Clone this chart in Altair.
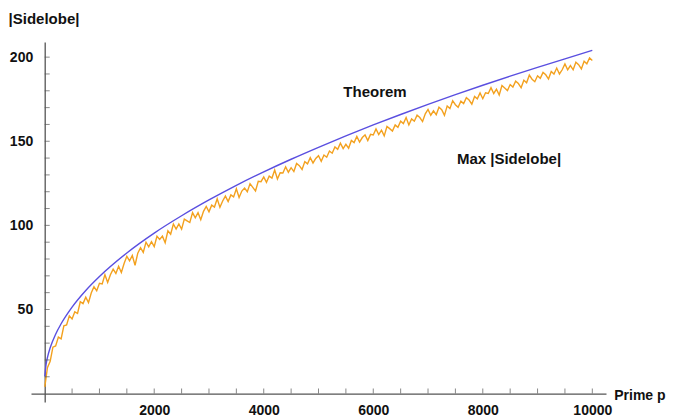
import altair as alt
import pandas as pd

# Theorem curve (coarse samples)
theorem_p = [2, 25, 50, 100, 200, 300, 500, 750, 1000, 1500, 2000, 2500, 3000, 3500,
             4000, 4500, 5000, 5500, 6000, 6500, 7000, 7500, 8000, 8500, 9000, 9500, 10000]
theorem_v = [10.3, 17.3, 21.4, 27.2, 35.3, 41.5, 51.4, 61.3, 69.6, 83.6, 95.4, 105.7, 115.1, 123.8,
             131.8, 139.3, 146.4, 153.2, 159.7, 165.9, 171.9, 177.7, 183.3, 188.7, 193.9, 199.0, 204.0]

# Max |Sidelobe|
max_p = [2] + list(range(50, 10001, 50))
max_v = [4.0,
 15.4, 19.2, 27.6, 28.3, 33.6, 32.5, 40.3, 40.8, 46.2, 44.4,
 48.6, 47.6, 54.6, 53.5, 57.3, 54.1, 59.8, 63.5, 61.1, 65.6,
 65.2, 70.7, 66.1, 70.6, 74.0, 71.4, 75.7, 72.0, 77.3, 81.6,
 78.9, 82.1, 76.3, 83.5, 86.7, 83.9, 90.0, 87.2, 90.3, 87.4,
 93.5, 91.6, 93.6, 89.7, 96.7, 94.7, 100.8, 97.8, 100.8, 97.8,
 103.7, 102.7, 101.7, 107.6, 104.5, 107.5, 103.4, 108.3, 111.2, 108.1,
 112.0, 110.9, 115.8, 110.7, 114.5, 117.4, 114.2, 118.1, 116.9, 121.8,
 116.6, 120.4, 122.2, 120.0, 124.8, 122.6, 120.4, 126.2, 126.0, 128.8,
 125.6, 129.3, 128.1, 132.9, 127.6, 131.3, 131.1, 134.8, 131.6, 134.3,
 132.0, 136.8, 135.5, 133.2, 137.9, 136.6, 140.3, 137.1, 139.8, 141.4,
 138.1, 141.8, 140.5, 144.2, 142.9, 146.6, 145.2, 148.9, 145.6, 148.2,
 145.9, 150.5, 149.2, 152.9, 149.5, 152.2, 153.8, 150.4, 154.1, 153.7,
 157.3, 154.0, 156.6, 153.2, 158.8, 157.5, 156.1, 159.7, 158.3, 161.9,
 160.5, 164.1, 159.7, 163.3, 161.9, 165.5, 164.1, 161.7, 166.3, 168.9,
 165.5, 168.1, 165.7, 170.2, 168.8, 165.4, 171.0, 169.5, 174.1, 171.7,
 170.2, 173.8, 172.4, 175.9, 174.5, 172.0, 176.6, 175.2, 178.7, 175.3,
 178.8, 178.4, 181.9, 178.4, 181.0, 177.5, 183.1, 181.6, 180.1, 183.7,
 182.2, 185.7, 184.3, 181.8, 186.3, 184.8, 189.3, 186.9, 185.4, 188.9,
 187.4, 190.9, 189.5, 187.0, 191.5, 190.0, 193.5, 190.0, 192.5, 196.0,
 192.5, 195.0, 192.5, 197.0, 195.5, 193.0, 197.5, 196.0, 199.5, 198.0]

x_labels = [2000, 4000, 6000, 8000, 10000]
y_labels = [50, 100, 150, 200]
x_minor = list(range(500, 10001, 500))
y_minor = list(range(10, 201, 10))

ann_text = ["Theorem", "Max |Sidelobe|", "Prime p", "|Sidelobe|"]
ann_x = [6032, 8479, 10400, -660]
ann_y = [179.5, 139.7, -1.5, 222.9]
ann_size = [15, 15, 14, 15]
ann_align = ["center", "center", "left", "left"]

theorem_df = pd.DataFrame({"p": theorem_p, "v": theorem_v})
max_df = pd.DataFrame({"p": max_p, "v": max_v})
xt_df = pd.DataFrame({"p": x_minor})
yt_df = pd.DataFrame({"v": y_minor})
ann_df = pd.DataFrame({"t": ann_text, "x": ann_x, "y": ann_y, "a": ann_align, "s": ann_size})

FONT = "Liberation Sans"
xs = alt.Scale(domain=[-250, 10250], nice=False, zero=False)
ys = alt.Scale(domain=[-5, 209], nice=False, zero=False)

x_axis = alt.Axis(values=x_labels, ticks=False, tickSize=0, grid=False, domain=True,
                  domainColor="#555555", domainWidth=1.3, offset=-8.4,
                  labelFont=FONT, labelFontWeight="bold", labelFontSize=14,
                  labelColor="#111111", labelPadding=10, format="d", labelFlush=False)
y_axis = alt.Axis(values=y_labels, ticks=False, tickSize=0, grid=False, domain=True,
                  domainColor="#555555", domainWidth=1.3, offset=-13.7,
                  labelFont=FONT, labelFontWeight="bold", labelFontSize=14,
                  labelColor="#111111", labelPadding=12, format="d", labelFlush=False)


def X(field):
    return alt.X(field, scale=xs, title=None, axis=x_axis)


def Y(field):
    return alt.Y(field, scale=ys, title=None, axis=y_axis)


orange = alt.Chart(max_df).mark_line(color="#f3a11e", strokeWidth=1.4).encode(
    x=X("p:Q"), y=Y("v:Q"))

blue = alt.Chart(theorem_df).mark_line(color="#5a4fe0", strokeWidth=1.4, interpolate="monotone").encode(
    x=X("p:Q"), y=Y("v:Q"))

xticks = alt.Chart(xt_df).mark_tick(orient="vertical", size=5, thickness=1, color="#555555", yOffset=-2.5).encode(
    x=X("p:Q"), y=alt.datum(0, scale=ys))

yticks = alt.Chart(yt_df).mark_tick(orient="horizontal", size=5, thickness=1, color="#555555", xOffset=2.5).encode(
    y=Y("v:Q"), x=alt.datum(0, scale=xs))

ann_center = alt.Chart(ann_df[ann_df.a == "center"]).mark_text(
    font=FONT, fontWeight="bold", color="#111111", align="center", baseline="middle"
).encode(x=X("x:Q"), y=Y("y:Q"), text="t:N", size=alt.Size("s:Q", scale=None, legend=None))
ann_left = alt.Chart(ann_df[ann_df.a == "left"]).mark_text(
    font=FONT, fontWeight="bold", color="#111111", align="left", baseline="middle"
).encode(x=X("x:Q"), y=Y("y:Q"), text="t:N", size=alt.Size("s:Q", scale=None, legend=None))

chart = alt.layer(orange, blue, xticks, yticks, ann_center, ann_left).properties(
    width=575, height=360,
    autosize=alt.AutoSizeParams(type="none"),
    padding={"left": 23, "top": 34, "right": 62, "bottom": 22},
    background="white",
).configure_view(stroke=None)

chart.save("out.html", embed_options={"renderer": "svg", "actions": False})
